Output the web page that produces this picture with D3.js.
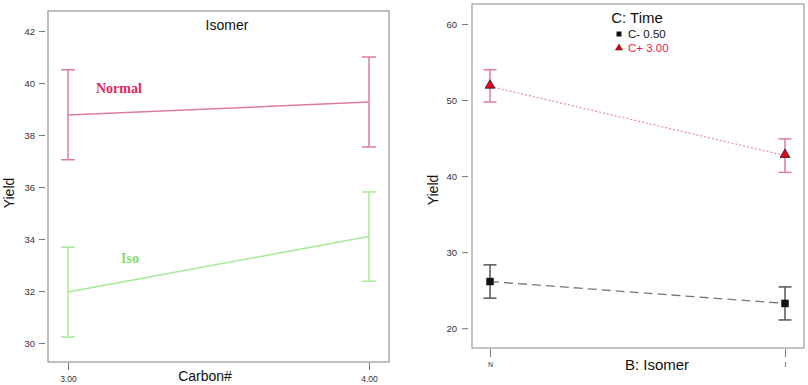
<!DOCTYPE html>
<html><head><meta charset="utf-8">
<script src="https://cdn.jsdelivr.net/npm/d3@7"></script>
<style>body{margin:0;background:#fff}svg{display:block;font-family:Arial,"Liberation Sans",sans-serif}</style>
</head><body>
<svg id="c" width="808" height="385"></svg>
<script>
// ---- Left panel data ----
const carbonTicks = [3, 4];
const carbonLabels = ["3.00", "4.00"];
const leftYTicks = [30, 32, 34, 36, 38, 40, 42];
const normalMean = [38.77, 39.27];
const normalLow = [37.05, 37.54];
const normalHigh = [40.51, 41.0];
const isoMean = [31.96, 34.1];
const isoLow = [30.23, 32.38];
const isoHigh = [33.69, 35.81];

// ---- Right panel data ----
const isomerCats = ["N", "I"];
const rightYTicks = [20, 30, 40, 50, 60];
const cMinusMean = [26.14, 23.26];
const cMinusLow = [23.95, 21.09];
const cMinusHigh = [28.33, 25.43];
const cPlusMean = [51.8, 42.7];
const cPlusLow = [49.74, 40.49];
const cPlusHigh = [53.99, 44.9];

const svg = d3.select("#c");
const SANS = "Arial, 'Liberation Sans', sans-serif";
const SERIF = "'Liberation Serif', 'Times New Roman', serif";

// ===== Left panel =====
const L = {x0: 48, x1: 389, y0: 11, y1: 362};
const lx = d3.scaleLinear().domain([3, 4]).range([68, 369]);
const ly = d3.scaleLinear().domain([29.27, 42.77]).range([L.y1, L.y0]);
const gL = svg.append("g");
gL.append("rect").attr("x", L.x0).attr("y", L.y0).attr("width", L.x1 - L.x0).attr("height", L.y1 - L.y0)
  .attr("fill", "none").attr("stroke", "#8c9494").attr("stroke-width", 1.2);
const lyAxis = d3.axisLeft(ly).tickValues(leftYTicks).tickSize(6).tickPadding(4).tickFormat(d3.format("d"));
const gly = gL.append("g").attr("transform", `translate(${L.x0 - 3},0)`).call(lyAxis);
gly.select(".domain").remove();
gly.selectAll("line").attr("stroke", "#6f7777");
gly.selectAll("text").style("font-family", SANS).attr("font-size", 9.5).attr("fill", "#333");
const lxAxis = d3.axisBottom(lx).tickValues(carbonTicks).tickSize(7).tickPadding(6).tickFormat((d, i) => carbonLabels[i]);
const glx = gL.append("g").attr("transform", `translate(0,${L.y1 + 1})`).call(lxAxis);
glx.select(".domain").remove();
glx.selectAll("line").attr("stroke", "#6f7777");
glx.selectAll("text").style("font-family", SANS).attr("font-size", 8.5).attr("fill", "#333");

function leftSeries(mean, low, high, color) {
  const line = d3.line().x((d, i) => lx(carbonTicks[i])).y(d => ly(d));
  gL.append("path").attr("d", line(mean)).attr("fill", "none").attr("stroke", color).attr("stroke-width", 1.5);
  carbonTicks.forEach((c, i) => {
    const x = lx(c);
    gL.append("line").attr("x1", x).attr("x2", x).attr("y1", ly(low[i])).attr("y2", ly(high[i])).attr("stroke", color).attr("stroke-width", 1.5);
    [low[i], high[i]].forEach(v => gL.append("line").attr("x1", x - 7).attr("x2", x + 7).attr("y1", ly(v)).attr("y2", ly(v)).attr("stroke", color).attr("stroke-width", 1.5));
  });
}
leftSeries(normalMean, normalLow, normalHigh, "#e07aa2");
leftSeries(isoMean, isoLow, isoHigh, "#a6ea96");

gL.append("text").attr("x", 96).attr("y", 93).text("Normal")
  .style("font-family", SERIF).attr("font-weight", "bold").attr("font-size", 14).attr("fill", "#e4285a");
gL.append("text").attr("x", 121).attr("y", 263).text("Iso")
  .style("font-family", SERIF).attr("font-weight", "bold").attr("font-size", 14).attr("fill", "#86dc72");
gL.append("text").attr("x", 227).attr("y", 30).attr("text-anchor", "middle").attr("font-size", 14).attr("fill", "#111").text("Isomer");
gL.append("text").attr("x", 205).attr("y", 381).attr("text-anchor", "middle").attr("font-size", 14).attr("fill", "#111").text("Carbon#");
gL.append("text").attr("transform", "translate(14,193) rotate(-90)").attr("text-anchor", "middle").attr("font-size", 14).attr("fill", "#111").text("Yield");

// ===== Right panel =====
const R = {x0: 472, x1: 804, y0: 4, y1: 348};
const rx = d3.scalePoint().domain(isomerCats).range([490, 785]);
const ry = d3.scaleLinear().domain([17.4, 62.63]).range([R.y1, R.y0]);
const gR = svg.append("g");
gR.append("rect").attr("x", R.x0).attr("y", R.y0).attr("width", R.x1 - R.x0).attr("height", R.y1 - R.y0)
  .attr("fill", "none").attr("stroke", "#9aa0a0").attr("stroke-width", 1.2);
const ryAxis = d3.axisLeft(ry).tickValues(rightYTicks).tickSize(6).tickPadding(5).tickFormat(d3.format("d"));
const gry = gR.append("g").attr("transform", `translate(${R.x0 - 4},0)`).call(ryAxis);
gry.select(".domain").remove();
gry.selectAll("line").attr("stroke", "#6f7777");
gry.selectAll("text").style("font-family", SANS).attr("font-size", 9.5).attr("fill", "#333");
const rxAxis = d3.axisBottom(rx).tickSize(8).tickPadding(5);
const grx = gR.append("g").attr("transform", `translate(0,${R.y1 + 1})`).call(rxAxis);
grx.select(".domain").remove();
grx.selectAll("line").attr("stroke", "#6f7777");
grx.selectAll("text").style("font-family", SANS).attr("font-size", 7).attr("fill", "#333");

function rightSeries(mean, low, high, barColor, lineColor, dash) {
  const line = d3.line().x((d, i) => rx(isomerCats[i])).y(d => ry(d));
  gR.append("path").attr("d", line(mean)).attr("fill", "none").attr("stroke", lineColor).attr("stroke-width", 1.3).attr("stroke-dasharray", dash);
  isomerCats.forEach((c, i) => {
    const x = rx(c);
    gR.append("line").attr("x1", x).attr("x2", x).attr("y1", ry(low[i])).attr("y2", ry(high[i])).attr("stroke", barColor).attr("stroke-width", 1.5);
    [low[i], high[i]].forEach(v => gR.append("line").attr("x1", x - 6.5).attr("x2", x + 6.5).attr("y1", ry(v)).attr("y2", ry(v)).attr("stroke", barColor).attr("stroke-width", 1.5));
  });
}
rightSeries(cPlusMean, cPlusLow, cPlusHigh, "#e07aa2", "#e890b0", "2,2");
rightSeries(cMinusMean, cMinusLow, cMinusHigh, "#555", "#777", "9,5");

const tri = d3.symbol().type(d3.symbolTriangle).size(42);
const sq = d3.symbol().type(d3.symbolSquare).size(56);
isomerCats.forEach((c, i) => {
  gR.append("path").attr("d", tri()).attr("transform", `translate(${rx(c)},${ry(cPlusMean[i]) - 1})`).attr("fill", "#e8001c").attr("stroke", "#222").attr("stroke-width", 0.8);
  gR.append("path").attr("d", sq()).attr("transform", `translate(${rx(c)},${ry(cMinusMean[i])})`).attr("fill", "#111");
});

// legend
gR.append("text").attr("x", 637).attr("y", 23).attr("text-anchor", "middle").attr("font-size", 15).attr("fill", "#111").text("C: Time");
gR.append("path").attr("d", d3.symbol().type(d3.symbolSquare).size(25)()).attr("transform", "translate(619,34)").attr("fill", "#111");
gR.append("text").attr("x", 628).attr("y", 38).attr("font-size", 11.5).attr("fill", "#111").text("C- 0.50");
gR.append("path").attr("d", d3.symbol().type(d3.symbolTriangle).size(22)()).attr("transform", "translate(619,48)").attr("fill", "#e8001c").attr("stroke", "#222").attr("stroke-width", 0.5);
gR.append("text").attr("x", 628).attr("y", 52).attr("font-size", 11.5).attr("fill", "#e8205a").text("C+ 3.00");

gR.append("text").attr("x", 657).attr("y", 370).attr("text-anchor", "middle").attr("font-size", 15).attr("fill", "#111").text("B: Isomer");
gR.append("text").attr("transform", "translate(438,190) rotate(-90)").attr("text-anchor", "middle").attr("font-size", 14).attr("fill", "#111").text("Yield");
</script>
</body></html>
